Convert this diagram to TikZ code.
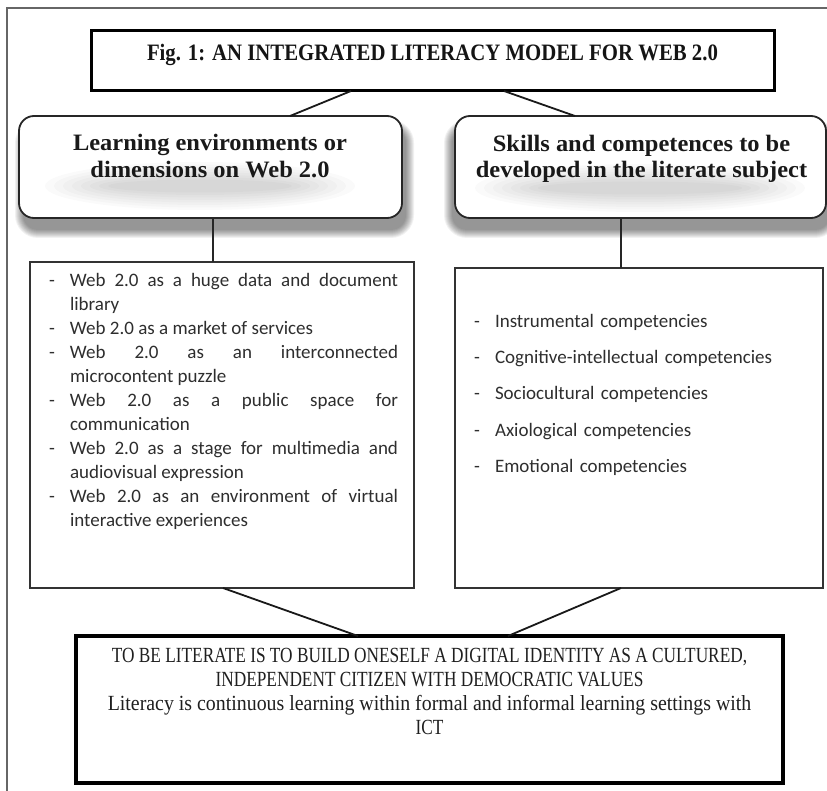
\documentclass[tikz,border=0pt]{standalone}
\usepackage{fontspec}
\setmainfont{Carlito}
\newfontfamily\titlefont{Liberation Serif}[FakeStretch=0.884]
\newfontfamily\headfont{Liberation Serif}[FakeStretch=1.04]
\newfontfamily\capfont{Liberation Serif}[FakeStretch=0.80]
\newfontfamily\lowfont{Liberation Serif}[FakeStretch=0.92]
\newcommand{\itdash}{\leavevmode\llap{\makebox[21pt][l]{-}}}
\setlength{\parindent}{0pt}
\tolerance=10000
\hbadness=10000
\hyphenpenalty=10000
\exhyphenpenalty=10000
\begin{document}
\begin{tikzpicture}[x=1pt,y=-1pt,
  titlebox/.style={draw=black, line width=3pt, fill=white, outer sep=0pt, inner sep=0pt},
  headbox/.style={draw=black!85, line width=1.8pt, fill=white, rounded corners=15pt, outer sep=0pt, inner sep=0pt},
  listbox/.style={draw=black!80, line width=1.8pt, outer sep=0pt, inner sep=0pt},
  endbox/.style={draw=black, line width=3.2pt, outer sep=0pt, inner sep=0pt},
  conn/.style={draw=black!90, line width=1.8pt},
  vconn/.style={draw=black!85, line width=1.5pt},
  txt/.style={inner sep=0pt, outer sep=0pt},
  titletxt/.style={txt, text=black!92, font=\titlefont\bfseries\fontsize{23.5}{28}\selectfont},
  headtxt/.style={txt, text=black!90, font=\headfont\bfseries\fontsize{23.5}{28}\selectfont},
  endcaps/.style={txt, text=black!88, font=\capfont\fontsize{21.6}{24}\selectfont},
  endlow/.style={txt, text=black!88, font=\lowfont\fontsize{21.6}{24}\selectfont},
  shadowlayer/.style={fill=black, opacity=0.055},
  glowlayer/.style={fill=black, opacity=0.018}
]
\useasboundingbox (0,0) rectangle (827,791);
\fill[white] (0,0) rectangle (827,791);

% outer frame (partly cropped)
\draw[black!60, line width=1.4pt] (7,791) -- (7,8) -- (827,8);

% soft shadows under the header boxes
\foreach \k in {0,...,8}{
  \fill[shadowlayer, rounded corners={15+\k}] (23-\k,128-\k) rectangle (406+\k,230+\k);
  \fill[shadowlayer, rounded corners={15+\k}] (452-\k,128-\k) rectangle (830+\k,230+\k);
}

% title
\node[titlebox, minimum width=683pt, minimum height=60pt, anchor=north west] (title) at (91,31) {};
\node[titletxt, anchor=base] (titletext) at (432.5,61) {Fig. 1: AN INTEGRATED LITERACY MODEL FOR WEB 2.0};

% header boxes
\node[headbox, minimum width=383pt, minimum height=102pt, anchor=north west] (lhead) at (19,116) {};
\node[headbox, minimum width=371pt, minimum height=102pt, anchor=north west] (rhead) at (455,116) {};

% faint glow behind header texts
\foreach \k in {0,...,7}{
  \fill[glowlayer] (200,186) ellipse ({155-9*\k} and {24-2.5*\k});
  \fill[glowlayer] (640,188) ellipse ({165-9*\k} and {24-2.5*\k});
}

\node[headtxt, anchor=base] (lh1) at (210,151) {Learning environments or};
\node[headtxt, anchor=base] (lh2) at (210,177.5) {dimensions on Web 2.0};
\node[headtxt, anchor=base] (rh1) at (641.5,151.5) {Skills and competences to be};
\node[headtxt, anchor=base] (rh2) at (641.5,177.8) {developed in the literate subject};

% list boxes
\node[listbox, minimum width=384pt, minimum height=326pt, anchor=north west] (lbox) at (30,262) {};
\node[listbox, minimum width=368pt, minimum height=320pt, anchor=north west] (rbox) at (455,268) {};

\node[txt, anchor=north west, text width=328pt, align=justify, text=black!82,
      font=\fontsize{19}{24}\selectfont] (litems) at (70,270.2) {%
\strut\itdash Web 2.0 as a huge data and document\linebreak library\par
\itdash Web 2.0 as a market of services\par
\itdash Web 2.0 as an interconnected\linebreak microcontent puzzle\par
\itdash Web 2.0 as a public space for\linebreak communication\par
\itdash Web 2.0 as a stage for multimedia and\linebreak audiovisual expression\par
\itdash Web 2.0 as an environment of virtual\linebreak interactive experiences\par};

\node[txt, anchor=north west, text width=320pt, align=left, text=black!82,
      font=\fontsize{19}{36.25}\selectfont] (ritems) at (495,302.1) {%
\strut\itdash Instrumental competencies\par
\itdash Cognitive-intellectual competencies\par
\itdash Sociocultural competencies\par
\itdash Axiological competencies\par
\itdash Emotional competencies\par};

% final box
\node[endbox, minimum width=707pt, minimum height=147pt, anchor=north west] (endb) at (76,636) {};
\node[endcaps, anchor=base] (e1) at (429.5,662.7) {TO BE LITERATE IS TO BUILD ONESELF A DIGITAL IDENTITY AS A CULTURED,};
\node[endcaps, anchor=base] (e2) at (429.5,686.3) {INDEPENDENT CITIZEN WITH DEMOCRATIC VALUES};
\node[endlow, anchor=base] (e3) at (429.5,710.7) {Literacy is continuous learning within formal and informal learning settings with};
\node[endcaps, anchor=base] (e4) at (429.5,734.5) {ICT};

% connectors
\draw[conn] ([xshift=260pt]title.south west) -- ([xshift=271pt]lhead.north west);
\draw[conn] ([xshift=413pt]title.south west) -- ([xshift=120pt]rhead.north west);
\draw[vconn] ([xshift=2.5pt]lhead.south) -- ([xshift=-9pt]lbox.north);
\draw[vconn] ([xshift=-19.5pt]rhead.south) -- ([xshift=-18pt]rbox.north);
\draw[conn] ([xshift=1pt]lbox.south) -- ([xshift=282pt]endb.north west);
\draw[conn] ([xshift=-18pt]rbox.south) -- ([xshift=432pt]endb.north west);
\end{tikzpicture}
\end{document}
